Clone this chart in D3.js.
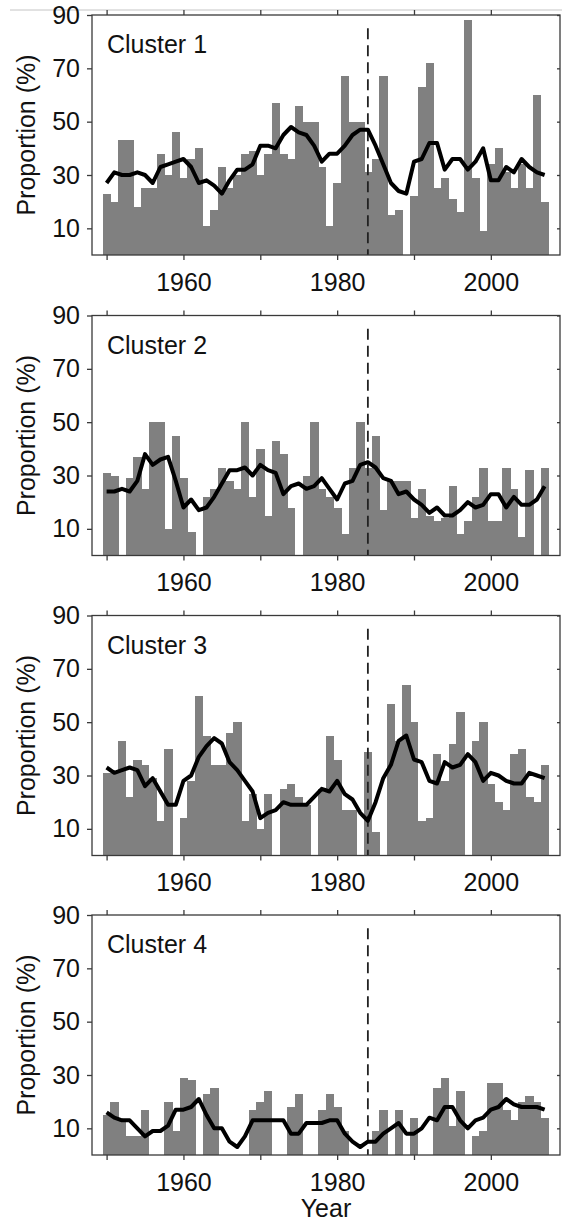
<!DOCTYPE html>
<html>
<head>
<meta charset="utf-8">
<script src="https://cdn.jsdelivr.net/npm/d3@7"></script>
<style>
    body { margin: 0; background: #fff; }
    svg { display: block; }
    text { font-family: 'Liberation Sans', Arial, Helvetica, sans-serif; }
</style>
</head>
<body>
<div id="chart"></div>
<script>
// years 1950 - 2007, one bar per year
const years = d3.range(1950, 2008);

const clusterNames = ['Cluster 1', 'Cluster 2', 'Cluster 3', 'Cluster 4'];

const cluster1Bars = [
    23, 20, 43, 43, 18, 25, 25, 38, 30, 46,
    29, 36, 40, 11, 17, 33, 25, 30, 38, 39,
    30, 38, 57, 38, 36, 56, 50, 50, 33, 11,
    27, 67, 50, 50, 31, 36, 67, 15, 17, 0,
    22, 63, 72, 25, 29, 21, 16, 88, 29, 9,
    34, 40, 31, 25, 34, 25, 60, 20,
];
const cluster1Line = [
    27, 31, 30, 30, 31, 30, 27, 33, 34, 35,
    36, 33, 27, 28, 26, 23, 28, 32, 32, 34,
    41, 41, 40, 45, 48, 46, 45, 41, 35, 38,
    38, 41, 45, 47, 47, 41, 34, 27, 24, 23,
    35, 36, 42, 42, 32, 36, 36, 32, 35, 40,
    28, 28, 33, 31, 36, 33, 31, 30,
];

const cluster2Bars = [
    31, 30, 0, 29, 37, 25, 50, 50, 10, 45,
    29, 9, 0, 22, 25, 33, 28, 25, 50, 22,
    40, 15, 43, 38, 18, 0, 30, 50, 25, 22,
    18, 8, 33, 50, 33, 45, 17, 28, 28, 28,
    14, 25, 15, 13, 14, 26, 8, 13, 22, 33,
    13, 13, 33, 25, 7, 32, 0, 33,
];
const cluster2Line = [
    24, 24, 25, 24, 28, 38, 34, 36, 37, 28,
    18, 21, 17, 18, 22, 27, 32, 32, 33, 30,
    34, 32, 31, 23, 26, 27, 25, 26, 29, 25,
    21, 27, 28, 34, 35, 33, 29, 28, 23, 24,
    21, 19, 16, 18, 15, 15, 17, 20, 18, 19,
    23, 23, 18, 22, 19, 19, 21, 26,
];

const cluster3Bars = [
    31, 31, 43, 22, 36, 34, 29, 13, 40, 0,
    14, 28, 60, 45, 34, 34, 46, 50, 13, 23,
    10, 23, 0, 25, 27, 22, 19, 0, 25, 45,
    36, 17, 17, 0, 39, 9, 0, 57, 43, 64,
    50, 13, 14, 38, 28, 42, 54, 0, 43, 50,
    27, 20, 17, 38, 40, 22, 20, 34,
];
const cluster3Line = [
    33, 31, 32, 33, 32, 26, 29, 24, 19, 19,
    28, 30, 37, 41, 44, 42, 35, 32, 28, 24,
    14, 16, 17, 20, 19, 19, 19, 22, 25, 24,
    28, 23, 21, 16, 13, 20, 29, 34, 43, 45,
    36, 35, 28, 27, 35, 33, 34, 38, 35, 28,
    31, 30, 28, 27, 27, 31, 30, 29,
];

const cluster4Bars = [
    15, 20, 13, 7, 7, 17, 0, 0, 20, 9,
    29, 28, 0, 23, 25, 0, 0, 0, 0, 17,
    20, 24, 0, 0, 18, 23, 0, 0, 17, 23,
    18, 9, 0, 0, 0, 9, 17, 0, 17, 0,
    14, 0, 0, 25, 29, 11, 24, 0, 7, 9,
    27, 27, 17, 13, 20, 22, 20, 14,
];
const cluster4Line = [
    16, 14, 13, 13, 10, 7, 9, 9, 11, 17,
    17, 18, 21, 15, 10, 10, 5, 3, 7, 13,
    13, 13, 13, 13, 8, 8, 12, 12, 12, 13,
    13, 8, 5, 3, 5, 5, 8, 10, 12, 8,
    8, 10, 14, 13, 18, 18, 13, 10, 13, 14,
    17, 18, 21, 19, 18, 18, 18, 17,
];

const barSeries = [cluster1Bars, cluster2Bars, cluster3Bars, cluster4Bars];
const lineSeries = [cluster1Line, cluster2Line, cluster3Line, cluster4Line];

const yTicks = [10, 30, 50, 70, 90];
const xTicks = [1950, 1960, 1970, 1980, 1990, 2000];
const xTickLabels = [1960, 1980, 2000];
const breakYear = 1984;

const WIDTH = 567;
const HEIGHT = 1222;
const PLOT_LEFT = 92;
const PLOT_RIGHT = 560;
const PANEL_TOPS = [15, 315.5, 615.5, 915];
const PANEL_HEIGHT = 240;

const svg = d3.select('#chart')
    .append('svg')
        .attr('width', WIDTH)
        .attr('height', HEIGHT);

// thin grey rule at the very top
svg.append('line')
    .attr('x1', 10).attr('x2', 562)
    .attr('y1', 10).attr('y2', 10)
    .attr('stroke', '#c4c4c4')
    .attr('stroke-width', 1);

const x = d3.scaleLinear()
    .domain([1948.1, 2009.0])
    .range([0, PLOT_RIGHT - PLOT_LEFT]);

const y = d3.scaleLinear()
    .domain([0, 90])
    .range([PANEL_HEIGHT, 0]);

const barWidth = x(1951) - x(1950);

clusterNames.forEach(function (name, i) {
    const g = svg.append('g')
        .attr('transform', 'translate(' + PLOT_LEFT + ',' + PANEL_TOPS[i] + ')');

    // bars
    g.selectAll('rect.bar')
        .data(years.map((yr, k) => ({ year: yr, value: barSeries[i][k] })))
        .enter()
        .append('rect')
            .attr('class', 'bar')
            .attr('x', d => x(d.year) - barWidth / 2)
            .attr('width', barWidth + 0.6)
            .attr('y', d => y(d.value))
            .attr('height', d => y(0) - y(d.value))
            .attr('fill', '#808080')
            .attr('shape-rendering', 'crispEdges');

    // dashed line at the break year
    g.append('line')
        .attr('x1', x(breakYear)).attr('x2', x(breakYear))
        .attr('y1', y(85)).attr('y2', y(0))
        .attr('stroke', '#222')
        .attr('stroke-width', 1.8)
        .attr('stroke-dasharray', '11,6');

    // running mean
    g.append('path')
        .datum(years.map((yr, k) => ({ year: yr, value: lineSeries[i][k] })))
        .attr('fill', 'none')
        .attr('stroke', '#000')
        .attr('stroke-width', 4)
        .attr('stroke-linejoin', 'round')
        .attr('d', d3.line()
            .x(d => x(d.year))
            .y(d => y(d.value))
        );

    // frame
    g.append('rect')
        .attr('x', 0).attr('y', 0)
        .attr('width', PLOT_RIGHT - PLOT_LEFT)
        .attr('height', PANEL_HEIGHT)
        .attr('fill', 'none')
        .attr('stroke', '#3a3a3a')
        .attr('stroke-width', 1.3);

    // axes
    const left = g.append('g')
        .call(d3.axisLeft(y).tickValues(yTicks).tickSize(5).tickPadding(7));
    const right = g.append('g')
        .attr('transform', 'translate(' + (PLOT_RIGHT - PLOT_LEFT) + ',0)')
        .call(d3.axisLeft(y).tickValues(yTicks).tickSize(3).tickFormat(''));
    const bottom = g.append('g')
        .attr('transform', 'translate(0,' + PANEL_HEIGHT + ')')
        .call(d3.axisBottom(x).tickValues(xTicks).tickSize(5).tickPadding(13)
            .tickFormat(d => xTickLabels.includes(d) ? String(d) : ''));
    const top = g.append('g')
        .call(d3.axisTop(x).tickValues(xTicks).tickSize(5).tickFormat(''));

    [left, right, bottom, top].forEach(function (ax) {
        ax.select('.domain').remove();
        ax.selectAll('line').attr('stroke', '#3a3a3a').attr('stroke-width', 1.3);
        ax.selectAll('text')
            .attr('fill', '#111')
            .attr('font-size', 25)
            .attr('font-family', "'Liberation Sans', Arial, sans-serif");
    });

    // panel title
    g.append('text')
        .text(name)
        .attr('x', 15)
        .attr('y', 38)
        .attr('font-size', 25)
        .attr('fill', '#111');

    // y axis label
    g.append('text')
        .text('Proportion (%)')
        .attr('transform', 'rotate(-90)')
        .attr('text-anchor', 'middle')
        .attr('x', -PANEL_HEIGHT / 2)
        .attr('y', 35 - PLOT_LEFT)
        .attr('font-size', 25)
        .attr('fill', '#111');
});

// x axis title
svg.append('text')
    .text('Year')
    .attr('text-anchor', 'middle')
    .attr('x', (PLOT_LEFT + PLOT_RIGHT) / 2)
    .attr('y', 1217)
    .attr('font-size', 25)
    .attr('fill', '#111');
</script>
</body>
</html>
